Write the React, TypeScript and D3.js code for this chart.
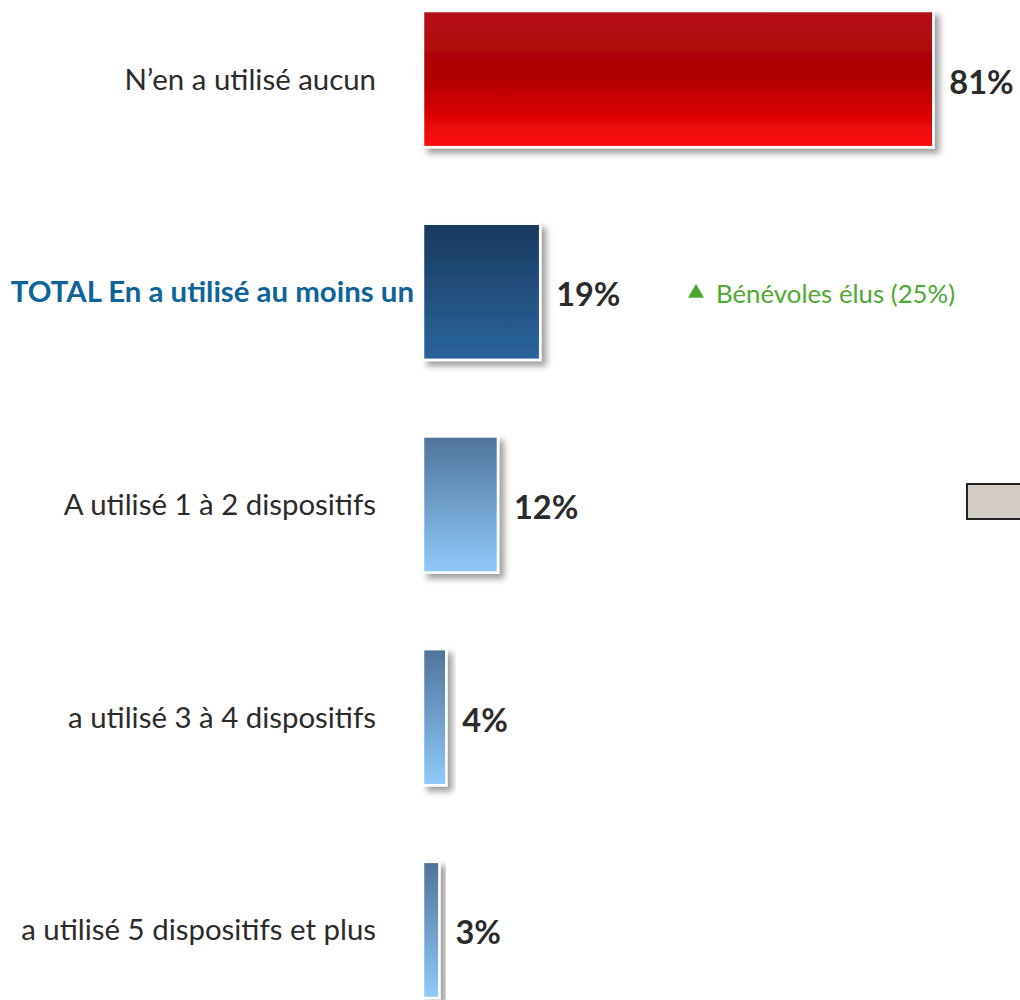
import React from "react";
import * as d3 from "d3";

const categories = [
  "N’en a utilisé aucun",
  "TOTAL En a utilisé au moins un",
  "A utilisé 1 à 2 dispositifs",
  "a utilisé 3 à 4 dispositifs",
  "a utilisé 5 dispositifs et plus",
];
const values = [81, 18.6, 11.9, 3.7, 2.6];
const valueLabels = ["81%", "19%", "12%", "4%", "3%"];
const barStyles = ["red", "navy", "light", "light", "light"];
const annotationText = "Bénévoles élus (25%)";

const W = 1020;
const H = 1000;
const FONT = "Lato, 'Open Sans', sans-serif";

export default function App() {
  const y = d3.scaleBand<string>().domain(categories).range([11, 998]).paddingInner(0.36).paddingOuter(0);
  const x = d3.scaleLinear().domain([0, 100]).range([423, 423 + 630]);
  const bw = y.bandwidth();

  return (
    <svg width={W} height={H} style={{ position: "absolute", left: 0, top: 0, background: "#fff" }}>
      <defs>
        <linearGradient id="g-red" x1="0" y1="0" x2="0" y2="1">
          <stop offset="0" stopColor="#b5121b" />
          <stop offset="0.47" stopColor="#ad0000" />
          <stop offset="1" stopColor="#ff0a0a" />
        </linearGradient>
        <linearGradient id="g-navy" x1="0" y1="0" x2="0" y2="1">
          <stop offset="0" stopColor="#19395e" />
          <stop offset="1" stopColor="#2a659c" />
        </linearGradient>
        <linearGradient id="g-light" x1="0" y1="0" x2="0" y2="1">
          <stop offset="0" stopColor="#4f7399" />
          <stop offset="1" stopColor="#8fcafc" />
        </linearGradient>
        <filter id="shadow" x="-20%" y="-20%" width="160%" height="160%">
          <feDropShadow dx="5" dy="5" stdDeviation="3" floodColor="#000" floodOpacity="0.38" />
        </filter>
      </defs>

      {categories.map((c, i) => {
        const y0 = y(c)!;
        const cy = y0 + bw / 2;
        const isTotal = i === 1;
        return (
          <g key={c}>
            <rect
              x={x(0)}
              y={y0}
              width={x(values[i]) - x(0)}
              height={bw}
              fill={`url(#g-${barStyles[i]})`}
              stroke="#fff"
              strokeWidth={2.5}
              filter="url(#shadow)"
            />
            <text
              x={isTotal ? 414 : 376}
              y={cy - 1}
              textAnchor="end"
              dominantBaseline="central"
              fontFamily={FONT}
              fontSize={29.4}
              fontWeight={isTotal ? 700 : 400}
              fill={isTotal ? "#0e6398" : "#2b2b2b"}
            >
              {c}
            </text>
            <text
              x={x(values[i]) + 16}
              y={cy + 2}
              dominantBaseline="central"
              fontFamily={FONT}
              fontSize={32.5}
              fontWeight={700}
              fill="#2b2b2b"
            >
              {valueLabels[i]}
            </text>
          </g>
        );
      })}

      {(() => {
        const cy = y(categories[1])! + bw / 2;
        return (
          <g>
            <path d={`M688,${cy + 6} L704,${cy + 6} L696,${cy - 8} Z`} fill="#4ea833" />
            <text x={716} y={cy + 1} dominantBaseline="central" fontFamily={FONT} fontSize={25.8} fill="#4ea833">
              {annotationText}
            </text>
          </g>
        );
      })()}

      <rect x={967} y={484} width={60} height={35} fill="#d4cdc6" stroke="#222" strokeWidth={2} />
    </svg>
  );
}
